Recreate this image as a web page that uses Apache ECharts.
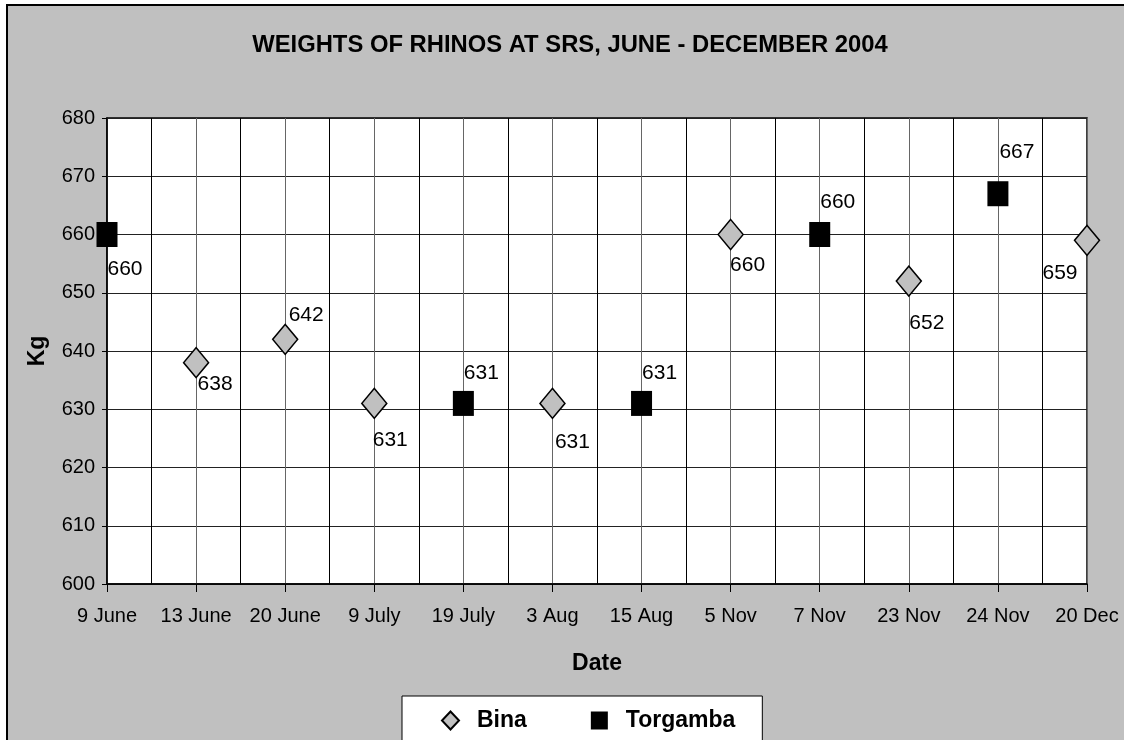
<!DOCTYPE html>
<html>
<head>
<meta charset="utf-8">
<script src="https://cdn.jsdelivr.net/npm/echarts@6/dist/echarts.min.js"></script>
<style>
    html, body { margin: 0; padding: 0; background: #fff; overflow: hidden; }
    .frame {
        position: absolute; left: 6px; top: 4px; width: 1200px; height: 800px;
        background: #c0c0c0; border: 2px solid #000;
    }
    #chart { position: absolute; left: 0; top: 0; width: 1124px; height: 740px; }
</style>
</head>
<body>
<div class="frame"></div>
<div id="chart"></div>
<script>
const dates = ['9 June', '13 June', '20 June', '9 July', '19 July', '3 Aug', '15 Aug', '5 Nov', '7 Nov', '23 Nov', '24 Nov', '20 Dec']
const bina = [null, 638, 642, 631, null, 631, null, 660, null, 652, null, 659]
const torgamba = [660, null, null, null, 631, null, 631, null, 660, null, 667, null]
const yTicks = [600, 610, 620, 630, 640, 650, 660, 670, 680]

// where each data label sits relative to its marker (px)
const labelOffset = {
    '9 June': [18, 35], '13 June': [19, 22], '20 June': [21, -24], '9 July': [16, 37],
    '19 July': [18, -30], '3 Aug': [20, 39], '15 Aug': [18, -30], '5 Nov': [17, 31],
    '7 Nov': [18, -32], '23 Nov': [18, 42], '24 Nov': [19, -42], '20 Dec': [-27, 33]
}

const toPoints = (values) => values
    .map((v, i) => v == null ? null : {
        value: [i, v],
        label: { offset: labelOffset[dates[i]] }
    })
    .filter(p => p)

const font = 'Liberation Sans, Arial, sans-serif'

const chart = echarts.init(document.getElementById('chart'))

chart.setOption({
    backgroundColor: 'transparent',
    animation: false,
    textStyle: { fontFamily: font, color: '#000' },
    title: {
        text: 'WEIGHTS OF RHINOS AT SRS, JUNE - DECEMBER 2004',
        left: 565,
        top: 28,
        textAlign: 'center',
        textStyle: { fontFamily: font, fontSize: 23.8, fontWeight: 'bold', color: '#000' }
    },
    grid: {
        left: 107,
        top: 118,
        right: 37,
        bottom: 156,
        show: true,
        backgroundColor: '#fff',
        borderColor: '#000',
        borderWidth: 1.5
    },
    xAxis: {
        type: 'value',
        min: 0,
        max: dates.length - 1,
        interval: 1,
        name: 'Date',
        nameLocation: 'middle',
        nameGap: 68,
        nameTextStyle: { fontFamily: font, fontSize: 23, fontWeight: 'bold', color: '#000' },
        axisLine: { show: true, lineStyle: { color: '#000', width: 1.5 } },
        axisTick: { show: true, length: 8, lineStyle: { color: '#000' } },
        minorTick: { show: false, splitNumber: 2 },
        axisLabel: {
            margin: 22,
            fontSize: 20,
            color: '#000',
            formatter: v => dates[v] || ''
        },
        splitLine: { show: true, lineStyle: { color: '#666', width: 1 } },
        minorSplitLine: { show: true, lineStyle: { color: '#000', width: 1 } }
    },
    yAxis: {
        type: 'value',
        min: yTicks[0],
        max: yTicks[yTicks.length - 1],
        interval: 10,
        name: 'Kg',
        nameLocation: 'middle',
        nameGap: 58,
        nameTextStyle: { fontFamily: font, fontSize: 23, fontWeight: 'bold', color: '#000' },
        axisLine: { show: true, lineStyle: { color: '#000', width: 1.5 } },
        axisTick: { show: true, length: 5, lineStyle: { color: '#000' } },
        axisLabel: { margin: 12, fontSize: 20, color: '#000' },
        splitLine: { show: true, lineStyle: { color: '#222', width: 1 } }
    },
    legend: {
        left: 402,
        top: 696,
        backgroundColor: '#fff',
        borderColor: '#000',
        borderWidth: 1,
        padding: [13, 27, 30, 39],
        itemGap: 64,
        itemWidth: 17,
        itemHeight: 18,
        textStyle: { fontFamily: font, fontSize: 23, fontWeight: 'bold', color: '#000', padding: [0, 0, 0, 13] },
        data: ['Bina', 'Torgamba']
    },
    series: [
        {
            name: 'Bina',
            type: 'scatter',
            symbol: 'diamond',
            symbolSize: [25, 30],
            itemStyle: { color: '#c0c0c0', borderColor: '#000', borderWidth: 1.5, opacity: 1 },
            label: {
                show: true,
                position: 'inside',
                fontSize: 21,
                color: '#000',
                formatter: p => p.value[1]
            },
            data: toPoints(bina)
        },
        {
            name: 'Torgamba',
            type: 'scatter',
            symbol: 'rect',
            symbolSize: [21, 25],
            itemStyle: { color: '#000', opacity: 1 },
            label: {
                show: true,
                position: 'inside',
                fontSize: 21,
                color: '#000',
                formatter: p => p.value[1]
            },
            data: toPoints(torgamba)
        }
    ]
})
</script>
</body>
</html>
